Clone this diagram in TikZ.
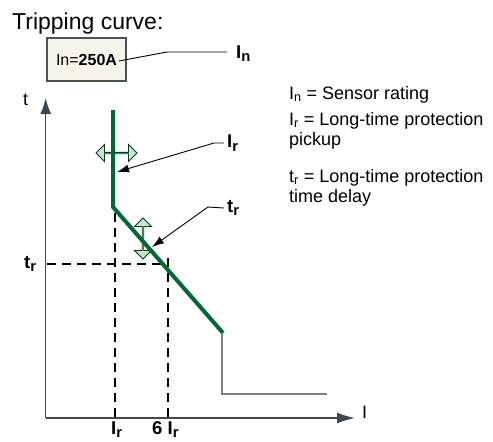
\documentclass[tikz,border=0pt]{standalone}
\usepackage{fontspec}
\setmainfont{Liberation Sans}
\usetikzlibrary{arrows.meta,shapes.arrows}

\definecolor{curvegreen}{RGB}{0,104,52}
\definecolor{adjfill}{RGB}{202,230,202}
\definecolor{axisgray}{RGB}{60,72,82}
\definecolor{boxfill}{RGB}{245,244,235}
\definecolor{boxline}{RGB}{72,82,90}

\newcommand{\idx}[1]{\raisebox{-0.35ex}{\scalebox{0.8}{#1}}}

\begin{document}
\begin{tikzpicture}[x=1pt, y=-1pt, every node/.style={inner sep=0pt},
    lbl/.style={font=\fontsize{18.5}{20}\selectfont\bfseries},
    note/.style={font=\fontsize{18}{20}\selectfont, align=left, anchor=north west},
    guide/.style={dash pattern=on 9pt off 6pt, line width=1.1pt},
    pointer/.style={line width=0.9pt, -{Latex[length=12pt,width=8pt]}},
    adjarrow/.style={double arrow, draw=curvegreen!60!black, fill=adjfill, line width=0.9pt,
        minimum height=41pt, minimum width=17pt, double arrow head extend=5pt}]
    \useasboundingbox (0,0) rectangle (493,442);

    \node[anchor=base west, font=\fontsize{23}{25}\selectfont] (title) at (12,29) {Tripping curve:};

    \node[draw=boxline, line width=2pt, fill=boxfill, minimum width=79pt, minimum height=43pt,
        font=\fontsize{16}{18}\selectfont] (rating) at (86.5,59.5) {In=\textbf{250A}};
    \node[lbl, anchor=base west] (In) at (236,58) {I\idx{n}};
    \coordinate (inStart) at (119,61);
    \coordinate (inEnd) at (227,52);
    \draw[line width=0.9pt] (inStart) -- (167,52) -- (inEnd);

    % axes
    \coordinate (O) at (45.7,418);
    \draw[axisgray, line width=1.5pt, -{Latex[length=16pt,width=11pt]}] (O) -- (45.7,98);
    \draw[axisgray, line width=1.5pt, -{Latex[length=18pt,width=11pt]}] (O) -- (355,418);
    \node[anchor=base west, font=\fontsize{18}{20}\selectfont] (tAxis) at (23,105) {t};
    \node[anchor=base west, font=\fontsize{18}{20}\selectfont] (iAxis) at (362,418) {I};

    \foreach \x/\y in {115/213, 168/258} { \draw[guide] (\x,\y) -- (\x,418); }
    \draw[guide] (47,264) -- (168,264);

    \node[lbl, anchor=base west] (trAxis) at (24,268) {t\idx{r}};
    \node[lbl, anchor=base west] (irTick) at (111,434) {I\idx{r}};
    \node[lbl, anchor=base west] (sixTick) at (152,434) {6 I\idx{r}};

    \node[adjarrow] (hadj) at (116.5,153) {};
    \node[adjarrow, rotate=90] (vadj) at (143,238.5) {};

    \draw[curvegreen, line width=4pt] (113,110) -- (113,207) -- (223,333);
    \draw[gray, line width=1.2pt] (222,333) -- (222,394) -- (327,394);

    \node[lbl, anchor=west] (Ir) at (227,143) {I\idx{r}};
    \coordinate (irTip) at (117,172);
    \draw[pointer] ([xshift=-3]Ir.west) -- (214,143) -- (irTip);

    \node[lbl, anchor=west] (tr) at (227,208) {t\idx{r}};
    \coordinate (trTip) at (152,247);
    \draw[pointer] ([xshift=-3]tr.west) -- (208,207) -- (trTip);

    \node[note] (n1) at (289,86) {I\textsubscript{n} = Sensor rating};
    \node[note] (n2) at (289,112) {I\textsubscript{r} = Long-time protection\\pickup};
    \node[note] (n3) at (289,169) {t\textsubscript{r} = Long-time protection\\time delay};
\end{tikzpicture}
\end{document}
